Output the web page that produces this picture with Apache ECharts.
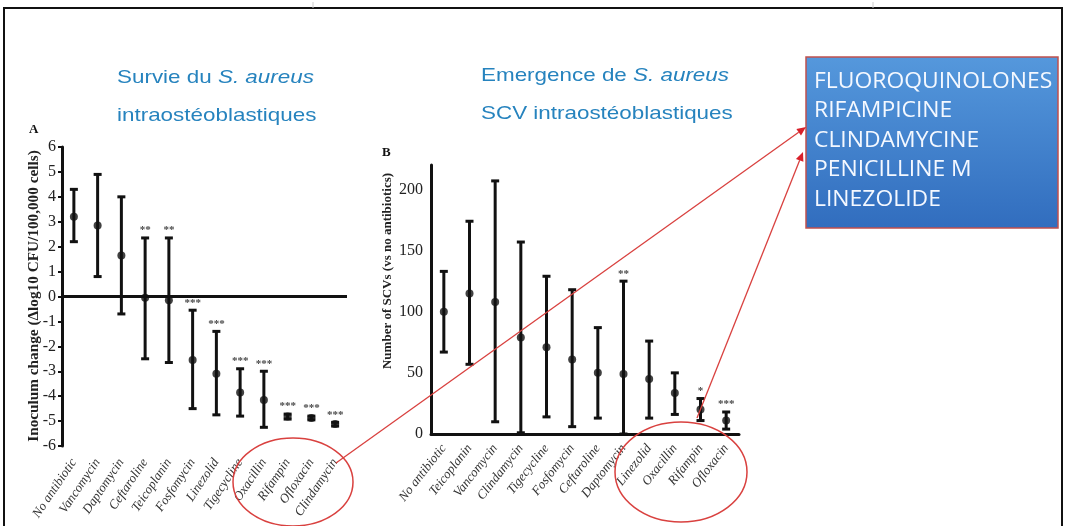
<!DOCTYPE html>
<html>
<head>
<meta charset="utf-8">
<script src="https://cdn.jsdelivr.net/npm/echarts@6/dist/echarts.min.js"></script>
<style>html,body{margin:0;padding:0;background:#fff}#c{width:1066px;height:526px}</style>
</head>
<body>
<div id="c"></div>
<script>
// Panel A: intra-osteoblastic S. aureus survival
const catsA = ['No antibiotic','Vancomycin','Daptomycin','Ceftaroline','Teicoplanin','Fosfomycin','Linezolid','Tigecycline','Oxacillin','Rifampin','Ofloxacin','Clindamycin'];
const meanA = [3.2, 2.85, 1.65, -0.05, -0.15, -2.55, -3.1, -3.85, -4.15, -4.82, -4.88, -5.12];
const lowA  = [2.2, 0.8, -0.7, -2.5, -2.65, -4.5, -4.75, -4.8, -5.25, -4.92, -4.95, -5.2];
const highA = [4.3, 4.9, 4.0, 2.35, 2.35, -0.55, -1.4, -2.9, -3.0, -4.72, -4.8, -5.05];
const sigA  = ['', '', '', '**', '**', '***', '***', '***', '***', '***', '***', '***'];
const ticksA = [-6,-5,-4,-3,-2,-1,0,1,2,3,4,5,6];

// Panel B: emergence of intra-osteoblastic SCVs
const catsB = ['No antibiotic','Teicoplanin','Vancomycin','Clindamycin','Tigecycline','Fosfomycin','Ceftaroline','Daptomycin','Linezolid','Oxacillin','Rifampin','Ofloxacin'];
const meanB = [100, 115, 108, 79, 71, 61, 50, 49, 45, 33.5, 20, 11];
const lowB  = [67, 57, 10, 1, 14, 6, 13, 0, 13, 16, 11, 4];
const highB = [133, 174, 207, 157, 129, 118, 87, 125, 76, 50, 29, 18];
const sigB  = ['', '', '', '', '', '', '', '**', '', '', '*', '***'];
const ticksB = [0, 50, 100, 150, 200];

const boxLines = ['FLUOROQUINOLONES','RIFAMPICINE','CLINDAMYCINE','PENICILLINE M','LINEZOLIDE'];

const chart = echarts.init(document.getElementById('c'), null, {renderer:'canvas'});
const serif = '"Liberation Serif", "DejaVu Serif", serif';
const sans = '"Liberation Sans", Arial, sans-serif';

function errItem(params, api){
  const lo = api.coord([api.value(0), api.value(1)]);
  const hi = api.coord([api.value(0), api.value(2)]);
  const w = 4;
  const st = {stroke:'#111', lineWidth:3};
  return {type:'group', children:[
    {type:'line', shape:{x1:lo[0],y1:lo[1],x2:hi[0],y2:hi[1]}, style:st},
    {type:'line', shape:{x1:lo[0]-w,y1:lo[1],x2:lo[0]+w,y2:lo[1]}, style:st},
    {type:'line', shape:{x1:hi[0]-w,y1:hi[1],x2:hi[0]+w,y2:hi[1]}, style:st}
  ]};
}

const xLabelA = {rotate:56, fontFamily:serif, fontStyle:'italic', fontSize:13, color:'#333', margin:14, interval:0};
const xLabelB = {rotate:52, fontFamily:serif, fontStyle:'italic', fontSize:13, color:'#333', margin:12, interval:0};
const yLabel = {fontFamily:serif, fontSize:16, color:'#222', margin:6};

function arrow(x1,y1,x2,y2){
  const a = Math.atan2(y2-y1, x2-x1), L=9, W=4;
  const bx = x2 - L*Math.cos(a), by = y2 - L*Math.sin(a);
  return [
    {type:'line', shape:{x1,y1,x2:bx,y2:by}, style:{stroke:'#d9413f', lineWidth:1.3}, z:100},
    {type:'polygon', shape:{points:[[x2,y2],[bx+W*Math.sin(a),by-W*Math.cos(a)],[bx-W*Math.sin(a),by+W*Math.cos(a)]]}, style:{fill:'#d9202a'}, z:100}
  ];
}

const blue = '#2683be';
const graphics = [
  {type:'rect', shape:{x:4, y:8, width:1058, height:530}, style:{fill:'none', stroke:'#111', lineWidth:2}, silent:true},
  {type:'line', shape:{x1:313, y1:2, x2:313, y2:8}, style:{stroke:'#ccc', lineWidth:1}},
  {type:'line', shape:{x1:873, y1:2, x2:873, y2:8}, style:{stroke:'#ccc', lineWidth:1}},
  {type:'text', x:117, y:78, scaleX:1.18, style:{text:'{n|Survie du }{i|S. aureus}', verticalAlign:'middle', rich:{n:{fontFamily:sans, fontSize:19, fill:blue}, i:{fontFamily:sans, fontSize:19, fontStyle:'italic', fill:blue}}}},
  {type:'text', x:117, y:116, scaleX:1.18, style:{text:'intraostéoblastiques', fontFamily:sans, fontSize:19, fill:blue, verticalAlign:'middle'}},
  {type:'text', x:481, y:76, scaleX:1.18, style:{text:'{n|Emergence de }{i|S. aureus}', verticalAlign:'middle', rich:{n:{fontFamily:sans, fontSize:19, fill:blue}, i:{fontFamily:sans, fontSize:19, fontStyle:'italic', fill:blue}}}},
  {type:'text', x:481, y:114, scaleX:1.18, style:{text:'SCV intraostéoblastiques', fontFamily:sans, fontSize:19, fill:blue, verticalAlign:'middle'}},
  {type:'text', x:29, y:130, style:{text:'A', fontFamily:serif, fontWeight:'bold', fontSize:13, fill:'#111', verticalAlign:'middle'}},
  {type:'text', x:382, y:153, style:{text:'B', fontFamily:serif, fontWeight:'bold', fontSize:13, fill:'#111', verticalAlign:'middle'}},
  {type:'text', x:34, y:296, rotation:Math.PI/2, scaleX:1.09, style:{text:'Inoculum change (\u0394log10 CFU/100,000 cells)', fontFamily:serif, fontWeight:'bold', fontSize:14, fill:'#222', align:'center', verticalAlign:'middle'}},
  {type:'text', x:388, y:271, rotation:Math.PI/2, style:{text:'Number of SCVs (vs no antibiotics)', fontFamily:serif, fontWeight:'bold', fontSize:13, fill:'#222', align:'center', verticalAlign:'middle'}},
  {type:'rect', shape:{x:806, y:57, width:252, height:171}, style:{fill:new echarts.graphic.LinearGradient(0,0,0,1,[{offset:0,color:'#5598dc'},{offset:1,color:'#316dbe'}]), stroke:'#c0504d', lineWidth:1.5}, z:50},
  {type:'ellipse', shape:{cx:293, cy:482, rx:60, ry:44}, style:{fill:'none', stroke:'#d9413f', lineWidth:1.5}, z:100},
  {type:'ellipse', shape:{cx:681, cy:472, rx:66, ry:50}, style:{fill:'none', stroke:'#d9413f', lineWidth:1.5}, z:100}
];
boxLines.forEach((t,i)=>{
  graphics.push({type:'text', x:814, y:82+i*29.5, scaleX:1.09, z:60, style:{text:t, fontFamily:'"Open Sans", sans-serif', fontSize:21, fill:'#f4f8ff', verticalAlign:'middle'}});
});
graphics.push(...arrow(336,463,806,127));
graphics.push(...arrow(697,418,803,152));

const starLabel = {show:true, position:'top', distance:2, fontFamily:serif, fontSize:11, fontWeight:'bold', color:'#111'};

chart.setOption({
  animation:false,
  backgroundColor:'#fff',
  graphic: graphics,
  grid:[
    {left:62, top:147, width:285, height:299},
    {left:431, top:165, width:308, height:269}
  ],
  xAxis:[
    {type:'category', gridIndex:0, data:catsA, axisLine:{show:false, onZero:false}, axisTick:{show:false}, axisLabel:xLabelA},
    {type:'category', gridIndex:1, data:catsB, axisLine:{show:true, onZero:false, lineStyle:{color:'#111', width:3}}, axisTick:{show:false}, axisLabel:xLabelB}
  ],
  yAxis:[
    {type:'value', gridIndex:0, min:-6, max:6, interval:1, splitLine:{show:false},
     axisLine:{show:true, lineStyle:{color:'#111', width:3}}, axisTick:{show:true, length:4, lineStyle:{color:'#111', width:2}},
     axisLabel:Object.assign({}, yLabel, {customValues:ticksA})},
    {type:'value', gridIndex:1, min:0, max:220, interval:50, splitLine:{show:false},
     axisLine:{show:true, lineStyle:{color:'#111', width:3}}, axisTick:{show:false},
     axisLabel:Object.assign({}, yLabel, {customValues:ticksB, margin:8})}
  ],
  series:[
    {type:'custom', xAxisIndex:0, yAxisIndex:0, renderItem:errItem, encode:{x:0, y:[1,2]},
     data:catsA.map((c,i)=>[i, lowA[i], highA[i]]), z:3},
    {type:'scatter', xAxisIndex:0, yAxisIndex:0, symbol:'circle', symbolSize:8, itemStyle:{color:'#111'},
     data:meanA.map((v,i)=>[i,v]), z:4,
     markLine:{silent:true, symbol:'none', label:{show:false}, lineStyle:{color:'#111', width:3, type:'solid'}, data:[{yAxis:0}]}},
    {type:'scatter', xAxisIndex:0, yAxisIndex:0, symbolSize:0,
     data:highA.map((v,i)=>({value:[i,v], label:{formatter:sigA[i]}})), label:starLabel},
    {type:'custom', xAxisIndex:1, yAxisIndex:1, renderItem:errItem, encode:{x:0, y:[1,2]},
     data:catsB.map((c,i)=>[i, lowB[i], highB[i]]), z:3},
    {type:'scatter', xAxisIndex:1, yAxisIndex:1, symbol:'circle', symbolSize:8, itemStyle:{color:'#111'},
     data:meanB.map((v,i)=>[i,v]), z:4},
    {type:'scatter', xAxisIndex:1, yAxisIndex:1, symbolSize:0,
     data:highB.map((v,i)=>({value:[i,v], label:{formatter:sigB[i]}})), label:starLabel}
  ]
});
</script>
</body>
</html>
